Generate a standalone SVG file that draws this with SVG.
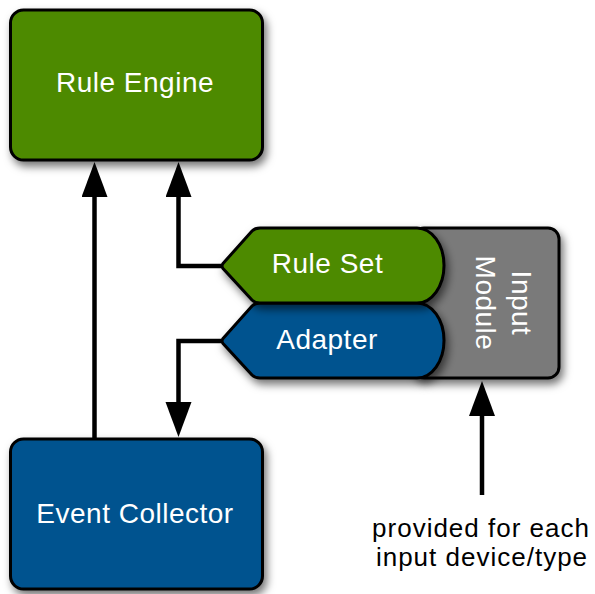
<svg xmlns="http://www.w3.org/2000/svg" width="595" height="594" viewBox="0 0 595 594">
  <defs>
    <filter id="shadow" x="-20%" y="-20%" width="150%" height="160%">
      <feDropShadow dx="3" dy="5" stdDeviation="4" flood-color="#000" flood-opacity="0.55"/>
    </filter>
    <marker id="arrow" markerUnits="userSpaceOnUse" markerWidth="36" markerHeight="27" refX="5" refY="13" orient="auto">
      <path d="M0,0 L35,13 L0,26 Z" fill="#000"/>
    </marker>
    <style>
      .box { stroke: #000; stroke-width: 3; filter: url(#shadow); }
      .green { fill: #4e8a00; }
      .blue { fill: #02528f; }
      .gray { fill: #7a7a7a; }
      .label { font-family: "Liberation Sans", Arial, Helvetica, sans-serif; font-size: 28px; letter-spacing: 0.5px; fill: #fff; text-anchor: middle; }
      .note { font-family: "Liberation Sans", Arial, Helvetica, sans-serif; font-size: 26px; letter-spacing: 1px; fill: #000; text-anchor: middle; }
      .edge { fill: none; stroke: #000; stroke-width: 4.5; marker-end: url(#arrow); }
    </style>
  </defs>

  <rect width="595" height="594" fill="#fff"/>

  <!-- connectors -->
  <g id="connectors">
    <path class="edge" d="M94.5,438 V192"/>
    <path class="edge" d="M221,266 H178.5 V192"/>
    <path class="edge" d="M221,341 H178.5 V407"/>
    <path class="edge" d="M482,495 V411"/>
  </g>

  <g id="rule-engine">
    <rect class="box green" x="10.5" y="10" width="252" height="150" rx="13"/>
    <text class="label" x="135" y="92">Rule Engine</text>
  </g>

  <g id="event-collector">
    <rect class="box blue" x="10.5" y="439" width="252" height="150" rx="13"/>
    <text class="label" x="135" y="523">Event Collector</text>
  </g>

  <!-- module body sits behind the two tabs; its left edge is hidden under them -->
  <g id="input-module">
    <rect class="box gray" x="413" y="228" width="146" height="150" rx="11"/>
    <text class="label" transform="translate(512,303) rotate(90)">Input</text>
    <text class="label" transform="translate(476,303) rotate(90)">Module</text>
  </g>

  <g id="adapter">
    <path class="box blue" d="M223,338.5 L252,306 Q255,303 260,303 H417 A27,37.5 0 0 1 417,378 H260 Q255,378 252,375 L223,343.5 Q221,341 223,338.5 Z"/>
    <text class="label" x="327" y="349">Adapter</text>
  </g>

  <g id="rule-set">
    <path class="box green" d="M223,263.5 L252,231 Q255,228 260,228 H417 A27,37.5 0 0 1 417,303 H260 Q255,303 252,300 L223,268.5 Q221,266 223,263.5 Z"/>
    <text class="label" x="327.5" y="273">Rule Set</text>
  </g>

  <g id="note">
    <text class="note" x="481" y="537">provided for each</text>
    <text class="note" x="482" y="566">input device/type</text>
  </g>
</svg>
